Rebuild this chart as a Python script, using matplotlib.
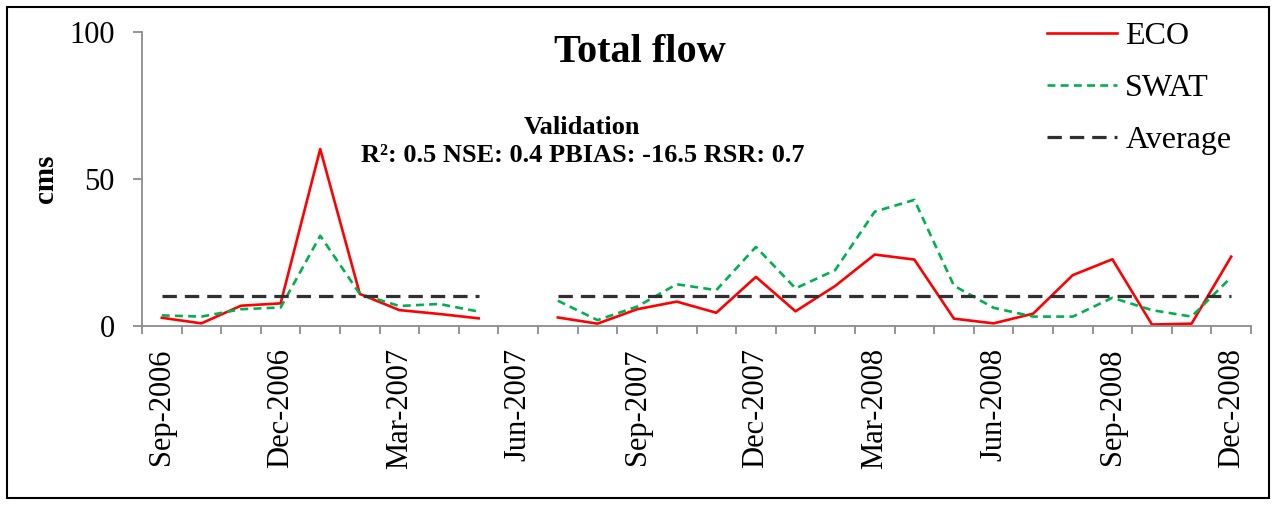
import matplotlib.pyplot as plt
import matplotlib.patches as patches
import numpy as np

plt.rcParams['font.family'] = ['Liberation Serif', 'DejaVu Serif']

months = ["Sep-2006", "Oct-2006", "Nov-2006", "Dec-2006", "Jan-2007", "Feb-2007",
          "Mar-2007", "Apr-2007", "May-2007", "Jun-2007", "Jul-2007", "Aug-2007",
          "Sep-2007", "Oct-2007", "Nov-2007", "Dec-2007", "Jan-2008", "Feb-2008",
          "Mar-2008", "Apr-2008", "May-2008", "Jun-2008", "Jul-2008", "Aug-2008",
          "Sep-2008", "Oct-2008", "Nov-2008", "Dec-2008"]
nan = np.nan
eco = [2.8, 0.9, 6.9, 7.7, 60.2, 10.9, 5.4, 4.1, 2.6, nan, 2.9, 0.8,
       5.7, 8.3, 4.5, 16.7, 5.0, 13.6, 24.3, 22.6, 2.5, 0.9, 4.2, 17.3,
       22.7, 0.5, 0.8, 23.6]
swat = [3.6, 3.2, 5.7, 6.3, 30.7, 10.9, 6.8, 7.5, 4.9, nan, 8.6, 2.0,
        6.6, 14.2, 12.2, 26.9, 12.8, 19.0, 38.9, 42.9, 13.7, 6.2, 3.2, 3.2,
        9.6, 5.4, 3.2, 16.6]
avg_value = 10.3
average = [nan if np.isnan(v) else avg_value for v in eco]

x = np.arange(len(months))

fig = plt.figure(figsize=(12.75, 5.05), dpi=100)
ax = fig.add_axes([142 / 1275, 1 - 326 / 505, 1109 / 1275, 294 / 505])

ax.plot(x, eco, color="#FF0000", lw=1.9, label="ECO")
ax.plot(x, swat, color="#00B050", lw=1.9, dashes=(3, 2), label="SWAT")
ax.plot(x, average, color="#303030", lw=2.3, dashes=(4.5, 2.5), label="Average")

ax.set_xlim(-0.5, len(months) - 0.5)
ax.set_ylim(0, 100)
ax.set_yticks([0, 50, 100])
ax.set_xticks(x[::3])
ax.set_xticklabels(months[::3], rotation=90)
ax.set_xticks(np.arange(-0.5, len(months), 1), minor=True)

for s in ["top", "right"]:
    ax.spines[s].set_visible(False)
for s in ["left", "bottom"]:
    ax.spines[s].set_color("#8C8C8C")
    ax.spines[s].set_linewidth(1.3)

ax.tick_params(axis="y", length=6.5, width=1.3, color="#8C8C8C", pad=13, labelsize=22)
ax.tick_params(axis="x", which="major", length=0, pad=16, labelsize=22)
ax.tick_params(axis="x", which="minor", length=6, width=1.3, color="#8C8C8C")

fig.text(45 / 1275, 1 - 179 / 505, "cms", rotation=90, ha="center", va="center",
         fontsize=21, fontweight="bold")
fig.text(640 / 1275, 1 - 52 / 505, "Total flow", ha="center", va="center",
         fontsize=29, fontweight="bold")
fig.text(582 / 1275, 1 - 127 / 505, "Validation", ha="center", va="center",
         fontsize=19, fontweight="bold")
fig.text(583 / 1275, 1 - 155 / 505, "R²: 0.5 NSE: 0.4 PBIAS: -16.5 RSR: 0.7",
         ha="center", va="center", fontsize=19, fontweight="bold")

ax.legend(loc="upper left", bbox_to_anchor=(1047 / 1275, 1 - 22 / 505),
          bbox_transform=fig.transFigure, frameon=False, fontsize=23,
          handlelength=2.2, handletextpad=0.25, labelspacing=0.7,
          borderpad=0, borderaxespad=0)

fig.patches.append(patches.Rectangle((7 / 1275, 7 / 505), 1262 / 1275, 491 / 505,
                                     transform=fig.transFigure, fill=False,
                                     edgecolor="black", lw=1.5))

fig.savefig("out.png", dpi=100)
